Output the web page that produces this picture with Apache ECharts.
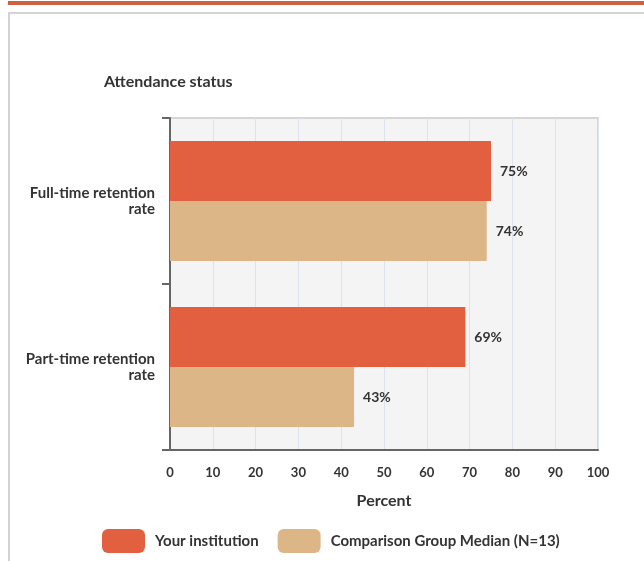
<!DOCTYPE html>
<html>
<head>
<meta charset="utf-8">
<script src="https://cdn.jsdelivr.net/npm/echarts@6/dist/echarts.min.js"></script>
<style>
html,body{margin:0;padding:0;background:#fff;}
#c{width:644px;height:561px;}
</style>
</head>
<body>
<div id="c"></div>
<script>
const categories = ["Full-time retention\nrate", "Part-time retention\nrate"];
const seriesNames = ["Your institution", "Comparison Group Median (N=13)"];
const yourInstitution = [75, 69];
const comparisonMedian = [74, 43];
const xTicks = [0, 10, 20, 30, 40, 50, 60, 70, 80, 90, 100];

const FONT = "Lato";
const TXT = "#333333";
const chart = echarts.init(document.getElementById('c'));
chart.setOption({
  animation: false,
  backgroundColor: '#ffffff',
  graphic: [
    { type: 'rect', shape: { x: 8, y: 1, width: 640, height: 4 }, style: { fill: '#cf5f3f' }, silent: true },
    { type: 'rect', shape: { x: 9, y: 13, width: 700, height: 700 }, style: { fill: 'none', stroke: '#d3d3d3', lineWidth: 2 }, silent: true },
    { type: 'text', left: 104, top: 74, style: { text: 'Attendance status', fontFamily: FONT, fontSize: 16, fontWeight: 'bold', fill: TXT } }
  ],
  grid: {
    left: 170, right: 46, top: 118, bottom: 111,
    show: true, backgroundColor: '#f4f4f4', borderColor: '#d6d6d6', borderWidth: 2
  },
  legend: {
    left: 97, top: 524,
    itemWidth: 43, itemHeight: 24, itemGap: 19,
    icon: 'roundRect',
    data: seriesNames,
    textStyle: { fontFamily: FONT, fontSize: 15, fontWeight: 'bold', color: TXT, padding: [0, 0, 0, 5] }
  },
  xAxis: {
    type: 'value', min: 0, max: 100, interval: 10,
    name: 'Percent', nameLocation: 'middle', nameGap: 43,
    nameTextStyle: { fontFamily: FONT, fontSize: 16, fontWeight: 'bold', color: TXT },
    axisLine: { show: true, lineStyle: { color: '#666666', width: 2 } },
    axisTick: { show: false },
    axisLabel: { margin: 16, fontFamily: FONT, fontSize: 13, fontWeight: 'bold', color: TXT,
      formatter: v => xTicks.includes(v) ? String(v) : '' },
    splitLine: { show: true, lineStyle: { color: '#dde3ee', width: 1 } }
  },
  yAxis: {
    type: 'category', inverse: true, data: categories,
    axisLine: { show: true, lineStyle: { color: '#666666', width: 2 } },
    axisTick: { show: true, length: 8, lineStyle: { color: '#666666', width: 2 } },
    axisLabel: { margin: 15, fontFamily: FONT, fontSize: 15, fontWeight: 'bold', color: TXT, lineHeight: 16, align: 'right' },
    splitLine: { show: false }
  },
  series: [
    {
      name: seriesNames[0], type: 'bar', data: yourInstitution,
      barGap: '0%', barCategoryGap: '27.7%',
      itemStyle: { color: '#e2603f' },
      label: { show: true, position: 'right', distance: 9, formatter: '{c}%', fontFamily: FONT, fontSize: 14, fontWeight: 'bold', color: TXT }
    },
    {
      name: seriesNames[1], type: 'bar', data: comparisonMedian,
      barGap: '0%', barCategoryGap: '27.7%',
      itemStyle: { color: '#ddb687' },
      label: { show: true, position: 'right', distance: 9, formatter: '{c}%', fontFamily: FONT, fontSize: 14, fontWeight: 'bold', color: TXT }
    }
  ]
});
</script>
</body>
</html>
